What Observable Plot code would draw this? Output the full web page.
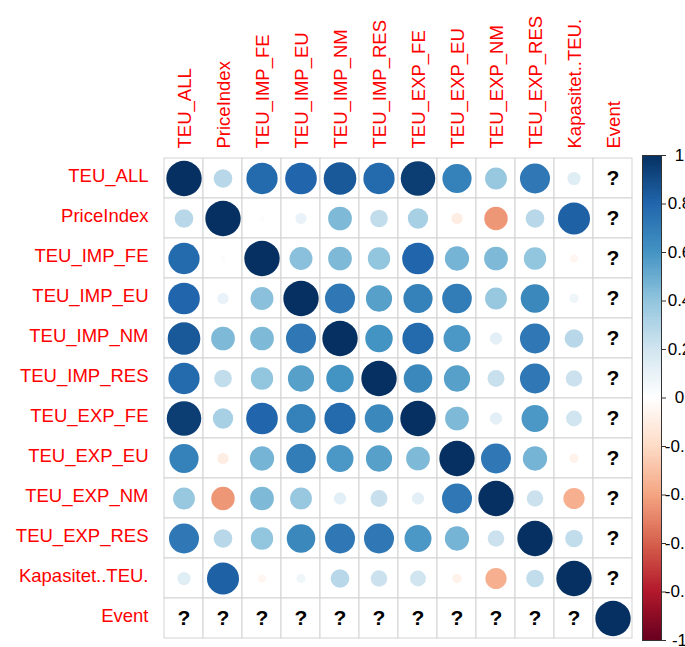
<!DOCTYPE html>
<html>
<head>
<meta charset="utf-8">
<script src="https://cdn.jsdelivr.net/npm/d3@7"></script>
<script src="https://cdn.jsdelivr.net/npm/@observablehq/plot@0.6"></script>
<style>
  body { margin: 0; overflow: hidden; background: #fff; }
  #chart { position: relative; width: 685px; height: 647px; overflow: hidden; }
  #chart svg { position: absolute; top: 0; }
</style>
</head>
<body>
<div id="chart"></div>
<script>
// Variables of the correlation matrix (rows and columns share this order)
const variables = [
  "TEU_ALL", "PriceIndex", "TEU_IMP_FE", "TEU_IMP_EU", "TEU_IMP_NM", "TEU_IMP_RES",
  "TEU_EXP_FE", "TEU_EXP_EU", "TEU_EXP_NM", "TEU_EXP_RES", "Kapasitet..TEU.", "Event"
];

// Pearson correlations; null = not available (Event is constant)
const corr = [
  [1.00,  0.28,  0.78, 0.80, 0.85, 0.78, 0.95,  0.68,  0.38, 0.72,  0.14, null],
  [0.28,  1.00,  0.02, 0.10, 0.45, 0.25, 0.33, -0.10, -0.44, 0.28,  0.82, null],
  [0.78,  0.02,  1.00, 0.42, 0.45, 0.40, 0.80,  0.47,  0.45, 0.40, -0.05, null],
  [0.80,  0.10,  0.42, 1.00, 0.72, 0.55, 0.68,  0.70,  0.38, 0.65,  0.07, null],
  [0.85,  0.45,  0.45, 0.72, 1.00, 0.60, 0.78,  0.58,  0.12, 0.72,  0.28, null],
  [0.78,  0.25,  0.40, 0.55, 0.60, 1.00, 0.65,  0.55,  0.23, 0.72,  0.22, null],
  [0.95,  0.33,  0.80, 0.68, 0.78, 0.65, 1.00,  0.45,  0.12, 0.58,  0.20, null],
  [0.68, -0.10,  0.47, 0.70, 0.58, 0.55, 0.45,  1.00,  0.72, 0.47, -0.07, null],
  [0.38, -0.44,  0.45, 0.38, 0.12, 0.23, 0.12,  0.72,  1.00, 0.22, -0.36, null],
  [0.72,  0.28,  0.40, 0.65, 0.72, 0.72, 0.58,  0.47,  0.22, 1.00,  0.25, null],
  [0.14,  0.82, -0.05, 0.07, 0.28, 0.22, 0.20, -0.07, -0.36, 0.25,  1.00, null],
  [null,  null,  null, null, null, null, null,  null,  null, null,  null, 1.00]
];

// Colour bar tick values
const legendTicks = [1, 0.8, 0.6, 0.4, 0.2, 0, -0.2, -0.4, -0.6, -0.8, -1];

// Diverging red–blue palette, from -1 to 1
const palette = ["#67001F", "#B2182B", "#D6604D", "#F4A582", "#FDDBC7", "#FFFFFF",
                 "#D1E5F0", "#92C5DE", "#4393C3", "#2166AC", "#053061"];

const colorScale = {
  type: "linear",
  domain: palette.map((_, i) => -1 + i * 0.2),
  range: palette,
  interpolate: "rgb",
  clamp: true
};

const cells = [];
variables.forEach((row, i) => {
  variables.forEach((col, j) => {
    cells.push({ row, col, value: corr[i][j] });
  });
});

const font = "'Liberation Sans', Arial, sans-serif";

const matrix = Plot.plot({
  width: 640,
  height: 647,
  marginLeft: 162,
  marginRight: 7,
  marginTop: 156,
  marginBottom: 7,
  style: { fontFamily: font, background: "transparent" },
  x: { type: "band", domain: variables, padding: 0, axis: null },
  y: { type: "band", domain: variables, padding: 0, axis: null },
  color: colorScale,
  r: { type: "sqrt", domain: [0, 1], range: [0, 17.7] },
  marks: [
    Plot.cell(cells, { x: "col", y: "row", fill: "white", stroke: "#d3d3d3", strokeWidth: 1 }),
    Plot.dot(cells.filter(d => d.value != null), {
      x: "col", y: "row", r: d => Math.abs(d.value), fill: "value", stroke: null
    }),
    Plot.text(cells.filter(d => d.value == null), {
      x: "col", y: "row", text: () => "?", fontSize: 21, fontWeight: "bold", fill: "black"
    }),
    Plot.axisX({ anchor: "top", tickRotate: -90, tickSize: 0, tickPadding: 8, dx: 1,
                 fill: "red", fontSize: 18.5, label: null }),
    Plot.axisY({ anchor: "left", tickSize: 0, tickPadding: 14, dy: -2,
                 fill: "red", fontSize: 18.5, label: null })
  ]
});

// Colour bar: 200 slices from -1 to 1
const slices = d3.range(200).map(i => ({ y1: -1 + i * 0.01, y2: -1 + (i + 1) * 0.01 }));

const colorbar = Plot.plot({
  width: 49,
  height: 647,
  marginLeft: 6,
  marginRight: 24,
  marginTop: 155,
  marginBottom: 7,
  style: { fontFamily: font, background: "transparent", overflow: "visible" },
  x: { domain: [0, 1], axis: null },
  y: { domain: [-1, 1], axis: null },
  color: colorScale,
  marks: [
    Plot.rect(slices, { x1: 0, x2: 1, y1: "y1", y2: "y2",
                        fill: d => (d.y1 + d.y2) / 2, shapeRendering: "crispEdges" }),
    Plot.frame({ stroke: "#333", strokeWidth: 1 }),
    Plot.axisY({ ticks: legendTicks, anchor: "right", tickSize: 4, tickPadding: 14,
                 textAnchor: "middle", fontSize: 17, fill: "black", stroke: "#333",
                 tickFormat: d => String(d), label: null })
  ]
});

const chart = document.getElementById("chart");
matrix.style.left = "0px";
colorbar.style.left = "636px";
chart.appendChild(matrix);
chart.appendChild(colorbar);
</script>
</body>
</html>
